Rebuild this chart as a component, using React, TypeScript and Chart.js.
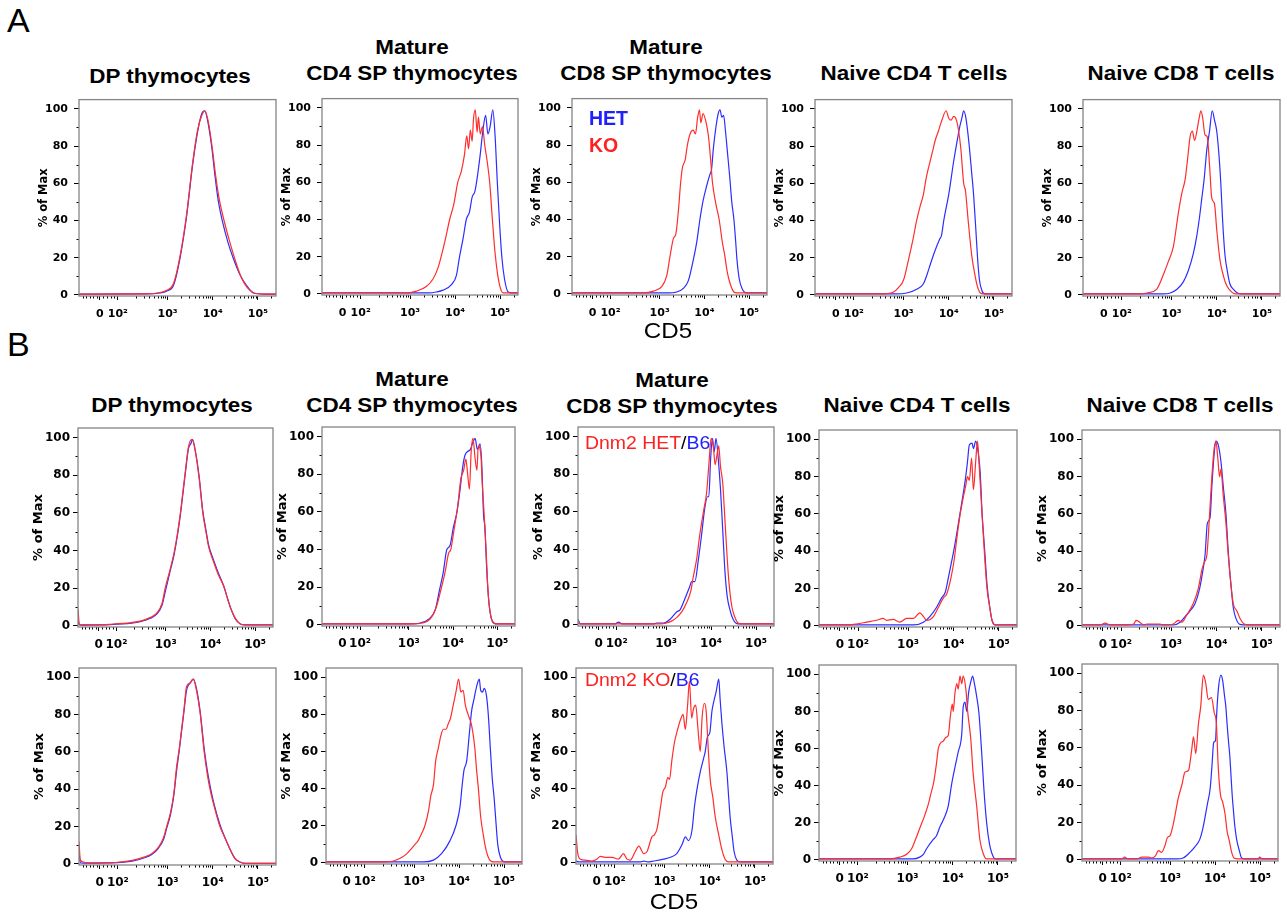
import React, { useEffect, useRef } from "react";
import { Chart, registerables } from "chart.js";
Chart.register(...registerables);

type P = [number, number];

// x: CD5 intensity in log10 display units, y: % of Max
// ---------- Panel A (HET = blue, KO = red)
const A_DP_HET: P[] = [[1.04,0.4],[2.54,0.5],[2.83,1],[2.98,2],[3.13,5],[3.27,19],[3.42,42],[3.55,69],[3.66,87],[3.75,97],[3.82,99],[3.9,92],[3.98,79],[4.05,64],[4.12,51],[4.22,39],[4.34,28],[4.45,20],[4.6,11],[4.75,5],[4.9,1],[5.12,0.4],[5.4,0.4]];
const A_DP_KO: P[] = [[1.04,0.4],[2.46,0.5],[2.76,1],[2.98,2.5],[3.13,6],[3.27,20],[3.42,43],[3.55,70],[3.66,88],[3.75,96],[3.83,99],[3.91,92],[3.99,79],[4.06,65],[4.14,52],[4.25,40],[4.37,29],[4.48,20],[4.62,10],[4.76,4],[4.91,1],[5.12,0.4],[5.4,0.4]];
const A_CD4SP_KO: P[] = [[1.04,0.5],[2.95,0.5],[3.14,1.5],[3.36,4],[3.51,8],[3.62,14],[3.69,20],[3.79,30],[3.88,40],[3.97,48],[4.06,60],[4.14,66],[4.21,75],[4.26,85],[4.3,78],[4.34,88],[4.38,82],[4.41,94],[4.45,99],[4.49,87],[4.52,95],[4.56,86],[4.61,90],[4.66,80],[4.71,72],[4.77,60],[4.83,40],[4.89,22],[4.95,10],[5.01,3],[5.07,0.5],[5.4,0.5]];
const A_CD4SP_HET: P[] = [[1.04,0.5],[3.43,0.5],[3.58,1],[3.73,2],[3.92,5],[4.03,10],[4.1,20],[4.18,30],[4.25,40],[4.32,44],[4.38,52],[4.44,55],[4.49,62],[4.56,75],[4.62,88],[4.68,96],[4.73,86],[4.78,90],[4.84,99],[4.89,85],[4.94,60],[4.99,38],[5.04,20],[5.1,8],[5.18,1],[5.25,0.5],[5.4,0.5]];
const A_CD8SP_KO: P[] = [[1.04,0.5],[2.64,0.5],[2.86,1.5],[3.05,4],[3.16,10],[3.23,20],[3.31,30],[3.36,32],[3.42,45],[3.47,60],[3.51,68],[3.57,72],[3.62,80],[3.68,86],[3.75,88],[3.8,86],[3.85,95],[3.89,99],[3.92,92],[3.97,97],[4.03,93],[4.09,85],[4.14,72],[4.18,60],[4.26,48],[4.33,40],[4.4,28],[4.46,20],[4.51,12],[4.57,6],[4.66,1],[4.72,0.5],[5.4,0.5]];
const A_CD8SP_HET: P[] = [[1.04,0.5],[3.16,0.5],[3.38,1],[3.53,3],[3.64,7],[3.75,18],[3.83,28],[3.9,40],[3.97,50],[4.05,58],[4.12,64],[4.16,67],[4.2,78],[4.26,90],[4.31,97],[4.35,99],[4.39,95],[4.43,96],[4.47,88],[4.52,75],[4.57,62],[4.61,50],[4.66,40],[4.7,28],[4.73,18],[4.78,8],[4.84,3],[4.94,0.5],[5.4,0.5]];
const A_NCD4_KO: P[] = [[1.04,0.5],[2.56,0.5],[2.78,1.5],[2.89,4],[3.0,8],[3.11,19],[3.21,30],[3.29,40],[3.37,48],[3.44,54],[3.48,60],[3.52,65],[3.59,72],[3.65,78],[3.7,83],[3.77,88],[3.85,94],[3.94,99],[4.0,95],[4.05,94],[4.11,96],[4.17,94],[4.22,88],[4.27,78],[4.33,60],[4.37,56],[4.43,40],[4.51,21],[4.57,12],[4.63,5],[4.7,1],[4.77,0.5],[5.4,0.5]];
const A_NCD4_HET: P[] = [[1.04,0.5],[2.85,0.5],[3.07,1],[3.29,3],[3.44,6],[3.52,11],[3.6,17],[3.7,24],[3.8,30],[3.84,32],[3.89,40],[4.0,54],[4.11,72],[4.18,82],[4.24,90],[4.29,95],[4.33,99],[4.38,95],[4.45,81],[4.51,65],[4.55,54],[4.6,35],[4.64,19],[4.68,8],[4.74,2],[4.81,0.5],[5.4,0.5]];
const A_NCD8_KO: P[] = [[1.04,0.5],[2.31,0.5],[2.45,1],[2.67,3],[2.82,11],[2.93,18],[3.04,26],[3.15,44],[3.23,55],[3.3,62],[3.35,72],[3.41,85],[3.46,88],[3.51,83],[3.56,88],[3.61,95],[3.65,99],[3.69,95],[3.74,86],[3.79,85],[3.84,70],[3.89,52],[3.95,49],[4.0,35],[4.07,19],[4.15,10],[4.22,5],[4.31,2],[4.41,0.5],[5.4,0.5]];
const A_NCD8_HET: P[] = [[1.04,0.5],[2.82,0.5],[2.97,1],[3.12,3],[3.26,7],[3.37,13],[3.48,22],[3.56,32],[3.62,42],[3.67,52],[3.72,62],[3.78,78],[3.84,88],[3.9,99],[3.95,94],[4.0,88],[4.05,75],[4.09,60],[4.13,40],[4.18,22],[4.24,12],[4.29,6],[4.37,3],[4.46,1],[4.55,0.5],[5.4,0.5]];

// ---------- Panel B, upper row (Dnm2 HET = red, B6 = blue)
const B1_DP_HET: P[] = [[1.04,9],[1.07,1],[1.13,0.3],[1.54,0.5],[1.84,1],[2.14,1.5],[2.43,2.5],[2.66,4.5],[2.81,7],[2.92,12],[2.99,20],[3.1,30],[3.19,39],[3.27,50],[3.33,60],[3.39,72],[3.44,82],[3.51,95],[3.59,99],[3.66,93],[3.75,78],[3.83,60],[3.9,50],[3.96,42],[4.07,34],[4.18,27],[4.3,21],[4.39,14],[4.46,9],[4.56,4],[4.67,1],[4.78,0.5],[5.4,0.5]];
const B1_DP_B6: P[] = [[1.04,3],[1.07,0.5],[1.54,0.5],[1.84,0.8],[2.14,1.2],[2.43,2.2],[2.66,4],[2.81,6.5],[2.92,11],[2.99,18],[3.1,29],[3.19,38],[3.27,49],[3.33,59],[3.39,71],[3.44,81],[3.51,94],[3.57,97],[3.6,99],[3.67,92],[3.75,79],[3.83,61],[3.9,51],[3.96,43],[4.07,35],[4.18,28],[4.3,21],[4.39,14],[4.46,9],[4.56,3.5],[4.67,1],[4.78,0.5],[5.4,0.5]];
const B1_CD4SP_HET: P[] = [[1.04,0.5],[3.11,0.5],[3.3,1],[3.48,3],[3.63,10],[3.72,18],[3.82,28],[3.9,38],[3.95,40],[4.02,50],[4.1,62],[4.18,78],[4.24,82],[4.29,88],[4.33,80],[4.37,72],[4.41,92],[4.45,99],[4.5,88],[4.54,82],[4.57,95],[4.63,90],[4.66,75],[4.7,60],[4.75,38],[4.79,18],[4.85,5],[4.93,1],[5.0,0.5],[5.4,0.5]];
const B1_CD4SP_B6: P[] = [[1.04,0.5],[3.03,0.5],[3.26,1],[3.45,3],[3.6,8],[3.69,18],[3.78,28],[3.86,40],[3.93,42],[4.01,52],[4.09,60],[4.16,72],[4.22,84],[4.27,90],[4.33,92],[4.39,93],[4.45,97],[4.5,99],[4.55,93],[4.61,96],[4.65,85],[4.69,58],[4.72,52],[4.76,30],[4.81,12],[4.87,3],[4.95,0.5],[5.4,0.5]];
const B1_CD8SP_HET: P[] = [[1.04,1],[1.09,0.5],[2.87,0.5],[3.01,1],[3.12,2],[3.24,4],[3.35,7],[3.46,12],[3.55,18],[3.6,25],[3.68,35],[3.75,48],[3.83,60],[3.9,70],[3.96,88],[4.0,99],[4.05,95],[4.09,85],[4.13,90],[4.17,95],[4.21,84],[4.26,75],[4.31,55],[4.36,35],[4.4,22],[4.46,10],[4.53,4],[4.6,1],[4.68,0.5],[5.4,0.5]];
const B1_CD8SP_B6: P[] = [[1.04,3],[1.09,0.5],[1.87,0.5],[1.94,1.5],[2.02,0.5],[2.72,0.5],[2.79,1],[2.94,1],[3.09,3],[3.24,7],[3.31,8],[3.42,14],[3.52,20],[3.57,23],[3.64,23],[3.72,35],[3.79,48],[3.86,62],[3.92,68],[3.95,68],[3.99,88],[4.03,99],[4.07,92],[4.11,99],[4.16,88],[4.21,72],[4.26,50],[4.31,28],[4.36,15],[4.42,8],[4.49,3],[4.6,0.5],[5.4,0.5]];
const B1_NCD4_HET: P[] = [[1.04,0.5],[1.64,0.5],[1.86,1],[2.09,2],[2.31,3],[2.45,4],[2.53,3],[2.67,3.5],[2.82,2],[2.97,4],[3.12,4],[3.26,7],[3.34,5],[3.41,3],[3.56,5],[3.67,10],[3.78,15],[3.85,17],[3.94,25],[4.02,36],[4.07,46],[4.15,60],[4.21,68],[4.27,75],[4.31,80],[4.35,78],[4.4,90],[4.44,73],[4.49,88],[4.53,99],[4.57,85],[4.63,60],[4.68,40],[4.74,20],[4.8,10],[4.85,3],[4.92,0.5],[5.4,0.5]];
const B1_NCD4_B6: P[] = [[1.04,0.5],[3.12,0.5],[3.34,2],[3.48,5],[3.63,10],[3.74,15],[3.82,18],[3.89,26],[3.94,32],[4.02,42],[4.09,52],[4.15,61],[4.21,70],[4.26,78],[4.31,88],[4.35,97],[4.41,98],[4.44,95],[4.49,99],[4.55,92],[4.59,82],[4.63,61],[4.69,40],[4.74,22],[4.8,10],[4.85,3],[4.92,0.5],[5.4,0.5]];
const B1_NCD8_HET: P[] = [[1.04,0.5],[1.44,0.5],[1.55,1.5],[1.66,0.5],[2.03,0.5],[2.18,1],[2.23,3],[2.31,2],[2.4,0.5],[2.47,1],[2.76,1],[2.83,0.5],[3.05,1],[3.16,3],[3.24,2],[3.35,6],[3.49,12],[3.6,20],[3.68,30],[3.73,34],[3.79,38],[3.85,60],[3.9,80],[3.95,95],[3.99,99],[4.03,90],[4.07,80],[4.1,84],[4.15,70],[4.21,55],[4.26,38],[4.32,22],[4.37,12],[4.45,8],[4.52,4],[4.61,1],[4.7,0.5],[5.4,0.5]];
const B1_NCD8_B6: P[] = [[1.04,0.5],[3.05,0.5],[3.2,2],[3.31,5],[3.42,8],[3.53,12],[3.63,20],[3.69,28],[3.75,38],[3.8,55],[3.86,58],[3.9,75],[3.95,92],[3.99,99],[4.04,97],[4.1,88],[4.15,75],[4.21,60],[4.26,40],[4.32,22],[4.37,10],[4.43,4],[4.5,1],[4.59,0.5],[5.4,0.5]];

// ---------- Panel B, lower row (Dnm2 KO = red, B6 = blue)
const B2_DP_KO: P[] = [[1.04,12],[1.07,2],[1.14,1],[1.25,0.5],[1.65,0.5],[1.95,1],[2.24,2],[2.46,3.5],[2.65,5.5],[2.8,9],[2.91,14],[2.98,20],[3.07,28],[3.14,38],[3.2,52],[3.26,62],[3.31,72],[3.36,82],[3.42,95],[3.5,97],[3.57,99],[3.64,93],[3.72,81],[3.81,60],[3.88,48],[3.94,40],[4.03,31],[4.16,20],[4.27,14],[4.38,8],[4.49,3],[4.6,1],[4.71,0.3],[5.4,0.3]];
const B2_DP_B6: P[] = [[1.04,7],[1.07,0.5],[1.25,0.4],[1.65,0.5],[1.95,0.8],[2.24,1.6],[2.46,3],[2.65,5],[2.8,8.5],[2.91,13],[2.98,19],[3.07,27],[3.14,37],[3.2,50],[3.26,61],[3.31,71],[3.36,81],[3.42,93],[3.5,97],[3.57,99],[3.64,94],[3.72,82],[3.81,62],[3.88,50],[3.94,42],[4.03,32],[4.16,21],[4.27,14],[4.38,8],[4.49,3],[4.6,1],[4.71,0.3],[5.4,0.3]];
const B2_CD4SP_KO: P[] = [[1.04,0.5],[2.32,0.5],[2.54,1],[2.73,3],[2.84,5],[2.95,8],[3.02,10],[3.09,12],[3.17,16],[3.24,20],[3.32,28],[3.37,36],[3.43,42],[3.48,55],[3.54,62],[3.59,68],[3.65,72],[3.71,72],[3.76,75],[3.81,78],[3.87,85],[3.93,92],[3.99,99],[4.04,92],[4.09,93],[4.14,85],[4.2,80],[4.28,74],[4.35,62],[4.39,50],[4.43,40],[4.48,25],[4.54,15],[4.6,7],[4.67,2],[4.77,0.5],[5.4,0.5]];
const B2_CD4SP_B6: P[] = [[1.04,0.5],[3.21,0.5],[3.43,1.5],[3.61,5],[3.8,12],[3.93,20],[4.02,30],[4.07,42],[4.11,50],[4.17,55],[4.23,70],[4.28,82],[4.33,88],[4.39,95],[4.45,99],[4.48,93],[4.52,92],[4.56,94],[4.61,90],[4.65,80],[4.7,60],[4.74,45],[4.78,35],[4.82,22],[4.86,10],[4.92,3],[5.02,0.5],[5.4,0.5]];
const B2_CD8SP_KO: P[] = [[1.04,15],[1.08,5],[1.14,2],[1.25,1.5],[1.39,1],[1.5,2],[1.58,3.5],[1.69,3],[1.84,3],[1.98,2],[2.09,5],[2.17,2],[2.24,1.5],[2.35,6],[2.43,9],[2.54,5],[2.61,6],[2.72,14],[2.77,15],[2.83,18],[2.91,30],[2.96,38],[3.02,41],[3.07,46],[3.11,45],[3.16,55],[3.22,65],[3.29,72],[3.35,77],[3.41,80],[3.46,72],[3.51,85],[3.55,98],[3.6,78],[3.64,83],[3.69,85],[3.74,72],[3.79,60],[3.83,78],[3.88,86],[3.92,82],[3.97,60],[4.01,45],[4.07,35],[4.12,25],[4.2,15],[4.27,7],[4.34,2],[4.42,0.5],[5.4,0.5]];
const B2_CD8SP_B6: P[] = [[1.04,1],[1.1,0.5],[2.46,0.5],[2.54,1],[2.63,0.5],[2.76,1],[2.98,2],[3.13,3],[3.27,5],[3.39,10],[3.46,14],[3.53,12],[3.61,18],[3.66,30],[3.72,40],[3.79,49],[3.85,55],[3.9,60],[3.95,68],[4.0,70],[4.05,82],[4.1,88],[4.14,92],[4.2,99],[4.23,88],[4.27,75],[4.32,62],[4.38,49],[4.42,35],[4.45,25],[4.5,14],[4.54,6],[4.6,1.5],[4.68,0.5],[5.4,0.5]];
const B2_NCD4_KO: P[] = [[1.04,0.5],[2.61,0.5],[2.83,1.5],[2.98,3],[3.09,6],[3.16,10],[3.27,17],[3.38,24],[3.46,30],[3.51,35],[3.58,42],[3.64,52],[3.68,60],[3.73,63],[3.79,64],[3.85,66],[3.9,67],[3.95,78],[3.99,84],[4.01,80],[4.05,90],[4.09,95],[4.12,92],[4.16,99],[4.2,95],[4.23,99],[4.29,92],[4.33,80],[4.4,65],[4.45,47],[4.53,29],[4.6,11],[4.68,3],[4.75,0.5],[5.4,0.5]];
const B2_NCD4_B6: P[] = [[1.04,0.5],[3.12,0.5],[3.27,1.5],[3.35,3],[3.42,6],[3.57,11],[3.64,13],[3.72,18],[3.8,22],[3.9,29],[3.94,35],[3.97,40],[4.05,50],[4.12,58],[4.2,68],[4.23,82],[4.27,85],[4.31,80],[4.35,90],[4.4,96],[4.44,99],[4.48,95],[4.53,88],[4.58,79],[4.64,58],[4.69,38],[4.75,20],[4.81,9],[4.86,4],[4.94,0.5],[5.4,0.5]];
const B2_NCD8_KO: P[] = [[1.04,0.5],[1.93,0.5],[1.99,1.5],[2.05,0.5],[2.26,0.5],[2.37,1.5],[2.52,1.5],[2.59,1],[2.67,2],[2.74,5],[2.81,4],[2.89,8],[2.94,12],[3.0,13],[3.06,18],[3.11,24],[3.18,33],[3.26,40],[3.33,47],[3.41,48],[3.48,59],[3.52,66],[3.57,57],[3.63,73],[3.68,82],[3.74,99],[3.79,95],[3.85,86],[3.92,87],[3.98,79],[4.03,73],[4.07,50],[4.12,35],[4.17,31],[4.22,25],[4.27,15],[4.31,11],[4.37,4],[4.42,1],[4.51,0.5],[4.96,0.5],[4.99,1.5],[5.05,0.5],[5.4,0.5]];
const B2_NCD8_B6: P[] = [[1.04,0.5],[3.15,0.5],[3.29,1],[3.44,4],[3.55,7],[3.66,11],[3.72,16],[3.77,22],[3.83,30],[3.89,38],[3.93,50],[3.97,63],[4.01,64],[4.04,80],[4.08,93],[4.13,99],[4.17,96],[4.21,88],[4.24,82],[4.27,72],[4.29,66],[4.33,55],[4.35,47],[4.38,35],[4.4,29],[4.44,18],[4.48,11],[4.54,5],[4.59,1],[4.66,0.5],[5.4,0.5]];

// ---------- axes
const X_MIN = 1.04;
const X_MAX = 5.4;
const Y_MIN = -0.6;
const Y_MAX = 105;
const X_TICK_VALUES = [1.5, 1.9, 3, 4, 5];
const X_TICK_LABELS = ["0", "10²", "10³", "10⁴", "10⁵"];
const Y_TICK_VALUES = [0, 20, 40, 60, 80, 100];
const X_MINOR = [1.12, 1.2, 1.28, 1.36, 1.44, 1.58, 1.66, 1.74, 1.82, 2.3, 2.48, 2.6, 2.7, 2.78, 2.85, 2.9, 2.95, 3.3, 3.48, 3.6, 3.7, 3.78, 3.85, 3.9, 3.95, 4.3, 4.48, 4.6, 4.7, 4.78, 4.85, 4.9, 4.95, 5.3];
const Y_MINOR = [10, 30, 50, 70, 90];

const TITLES: string[][] = [["DP thymocytes"], ["Mature", "CD4 SP thymocytes"], ["Mature", "CD8 SP thymocytes"], ["Naive CD4 T cells"], ["Naive CD8 T cells"]];

// ---------- layout (pixels)
const RED = "rgb(255,45,45)";
const BLUE = "rgb(45,45,255)";
const YW = 50;
const XH = 30;
const PT = 12;
const PR = 12;
const TICK_FONT = "'DejaVu Sans', 'Verdana', sans-serif";
const SANS = "'Liberation Sans', Arial, Helvetica, sans-serif";

type Box = [number, number, number, number];
const BOX_A: Box[] = [[79, 99, 197, 197], [322, 98, 196, 197], [572, 98, 195, 197], [815, 99, 197, 197], [1083, 99, 197, 197]];
const BOX_B1: Box[] = [[78, 428, 195, 199], [322, 427, 193, 199], [578, 427, 196, 199], [819, 430, 198, 197], [1082, 430, 198, 197]];
const BOX_B2: Box[] = [[79, 668, 197, 197], [326, 668, 196, 196], [576, 668, 197, 196], [819, 665, 197, 196], [1082, 664, 196, 197]];
const TITLE_POS_A: [number, number][] = [[170, 83], [412, 79.3], [666, 79.3], [913.5, 79.3], [1181, 79.3]];
const TITLE_POS_B: [number, number][] = [[171.7, 411.7], [411.7, 411.7], [671.7, 413], [917, 411.7], [1180, 411.7]];

type RowStyle = { tick: number; title: number; titlePad: number; xPad: number; yPad: number };
const ROW_A: RowStyle = { tick: 11, title: 11.5, titlePad: 8.6, xPad: 7.4, yPad: 6 };
const ROW_B: RowStyle = { tick: 12, title: 13, titlePad: 3.2, xPad: 6.3, yPad: 3 };

type PanelDef = { key: string; box: Box; style: RowStyle; red: P[]; blue: P[] };
const PANELS: PanelDef[] = [
  { key: "a1", box: BOX_A[0], style: ROW_A, red: A_DP_KO, blue: A_DP_HET },
  { key: "a2", box: BOX_A[1], style: ROW_A, red: A_CD4SP_KO, blue: A_CD4SP_HET },
  { key: "a3", box: BOX_A[2], style: ROW_A, red: A_CD8SP_KO, blue: A_CD8SP_HET },
  { key: "a4", box: BOX_A[3], style: ROW_A, red: A_NCD4_KO, blue: A_NCD4_HET },
  { key: "a5", box: BOX_A[4], style: ROW_A, red: A_NCD8_KO, blue: A_NCD8_HET },
  { key: "b1", box: BOX_B1[0], style: ROW_B, red: B1_DP_HET, blue: B1_DP_B6 },
  { key: "b2", box: BOX_B1[1], style: ROW_B, red: B1_CD4SP_HET, blue: B1_CD4SP_B6 },
  { key: "b3", box: BOX_B1[2], style: ROW_B, red: B1_CD8SP_HET, blue: B1_CD8SP_B6 },
  { key: "b4", box: BOX_B1[3], style: ROW_B, red: B1_NCD4_HET, blue: B1_NCD4_B6 },
  { key: "b5", box: BOX_B1[4], style: ROW_B, red: B1_NCD8_HET, blue: B1_NCD8_B6 },
  { key: "c1", box: BOX_B2[0], style: ROW_B, red: B2_DP_KO, blue: B2_DP_B6 },
  { key: "c2", box: BOX_B2[1], style: ROW_B, red: B2_CD4SP_KO, blue: B2_CD4SP_B6 },
  { key: "c3", box: BOX_B2[2], style: ROW_B, red: B2_CD8SP_KO, blue: B2_CD8SP_B6 },
  { key: "c4", box: BOX_B2[3], style: ROW_B, red: B2_NCD4_KO, blue: B2_NCD4_B6 },
  { key: "c5", box: BOX_B2[4], style: ROW_B, red: B2_NCD8_KO, blue: B2_NCD8_B6 },
];

const framePlugin = {
  id: "frameAndMinor",
  afterDraw(chart: any) {
    const { ctx, chartArea: a, scales } = chart;
    const x = scales.x;
    const y = scales.y;
    ctx.save();
    ctx.strokeStyle = "#000";
    ctx.lineWidth = 1;
    ctx.beginPath();
    for (const v of X_MINOR) {
      const px = Math.round(x.getPixelForValue(v)) + 0.5;
      ctx.moveTo(px, a.bottom);
      ctx.lineTo(px, a.bottom + 2.5);
    }
    for (const v of Y_MINOR) {
      const py = Math.round(y.getPixelForValue(v)) + 0.5;
      ctx.moveTo(a.left, py);
      ctx.lineTo(a.left - 2.5, py);
    }
    ctx.stroke();
    ctx.strokeStyle = "#858585";
    ctx.lineWidth = 1.3;
    ctx.strokeRect(a.left, a.top, a.right - a.left, a.bottom - a.top);
    ctx.restore();
  },
};

function makeConfig(p: PanelDef): any {
  const s = p.style;
  const line = (pts: P[], color: string) => ({
    data: pts.map(([x, y]) => ({ x, y })),
    borderColor: color,
    borderWidth: 1.2,
    pointRadius: 0,
    fill: false,
    cubicInterpolationMode: "monotone",
  });
  return {
    type: "line",
    data: { datasets: [line(p.red, RED), line(p.blue, BLUE)] },
    options: {
      animation: false,
      responsive: true,
      maintainAspectRatio: false,
      events: [],
      layout: { padding: { top: PT, right: PR, left: 0, bottom: 0 } },
      plugins: { legend: { display: false }, tooltip: { enabled: false }, title: { display: false } },
      scales: {
        x: {
          type: "linear",
          min: X_MIN,
          max: X_MAX,
          afterBuildTicks: (sc: any) => {
            sc.ticks = X_TICK_VALUES.map((v) => ({ value: v }));
          },
          afterFit: (sc: any) => {
            sc.height = XH;
          },
          ticks: {
            autoSkip: false,
            maxRotation: 0,
            padding: s.xPad,
            color: "#000",
            font: { family: TICK_FONT, size: s.tick, weight: "bold" },
            callback: (_v: any, i: number) => X_TICK_LABELS[i],
          },
          grid: { drawOnChartArea: false, drawTicks: true, tickLength: 4, color: "#000", lineWidth: 1 },
          border: { display: false },
        },
        y: {
          type: "linear",
          min: Y_MIN,
          max: Y_MAX,
          afterBuildTicks: (sc: any) => {
            sc.ticks = Y_TICK_VALUES.map((v) => ({ value: v }));
          },
          afterFit: (sc: any) => {
            sc.width = YW;
          },
          ticks: {
            autoSkip: false,
            padding: s.yPad,
            color: "#000",
            font: { family: TICK_FONT, size: s.tick, weight: "bold" },
            callback: (v: any) => String(Math.round(v)),
          },
          grid: { drawOnChartArea: false, drawTicks: true, tickLength: 5, color: "#000", lineWidth: 1 },
          border: { display: false },
          title: {
            display: true,
            text: "% of Max",
            color: "#000",
            font: { family: TICK_FONT, size: s.title, weight: "bold" },
            padding: { top: s.titlePad, bottom: 0 },
          },
        },
      },
    },
    plugins: [framePlugin],
  };
}

function Panel({ p }: { p: PanelDef }) {
  const ref = useRef<HTMLCanvasElement>(null);
  useEffect(() => {
    const chart = new Chart(ref.current as HTMLCanvasElement, makeConfig(p));
    return () => chart.destroy();
  }, [p]);
  const [l, t, w, h] = p.box;
  return (
    <div style={{ position: "absolute", left: l - YW, top: t - PT, width: w + YW + PR, height: h + PT + XH }}>
      <canvas ref={ref} />
    </div>
  );
}

function topFor(baseline: number, f: number, lh: number) {
  return baseline - ((lh - 1.117 * f) / 2 + 0.905 * f);
}

function Title({ lines, cx, baseline }: { lines: string[]; cx: number; baseline: number }) {
  const f = 19.5;
  const lh = 26;
  return (
    <div
      style={{
        position: "absolute",
        left: cx,
        top: topFor(baseline, f, lh) - (lines.length - 1) * lh,
        transform: "translateX(-50%) scaleX(1.15)",
        fontFamily: SANS,
        fontWeight: "bold",
        fontSize: f,
        lineHeight: lh + "px",
        textAlign: "center",
        whiteSpace: "nowrap",
        color: "#000",
      }}
    >
      {lines.map((s, i) => (
        <div key={i}>{s}</div>
      ))}
    </div>
  );
}

function Label({ x, baseline, size, bold, children, sx, center }: any) {
  const lh = size * 1.2;
  return (
    <div
      style={{
        position: "absolute",
        left: x,
        top: topFor(baseline, size, lh),
        fontFamily: SANS,
        fontWeight: bold ? "bold" : "normal",
        fontSize: size,
        lineHeight: lh + "px",
        whiteSpace: "nowrap",
        transform: center ? `translateX(-50%) scaleX(${sx || 1})` : `scaleX(${sx || 1})`,
        transformOrigin: center ? "center" : "left",
        color: "#000",
      }}
    >
      {children}
    </div>
  );
}

export default function App() {
  return (
    <div style={{ position: "absolute", left: 0, top: 0, width: 1287, height: 913, background: "#fff", overflow: "hidden" }}>
      <Label x={7} baseline={31.7} size={34}>A</Label>
      <Label x={7} baseline={356} size={34}>B</Label>
      {TITLES.map((lines, i) => (
        <Title key={"ta" + i} lines={lines} cx={TITLE_POS_A[i][0]} baseline={TITLE_POS_A[i][1]} />
      ))}
      {TITLES.map((lines, i) => (
        <Title key={"tb" + i} lines={lines} cx={TITLE_POS_B[i][0]} baseline={TITLE_POS_B[i][1]} />
      ))}
      {PANELS.map((p) => (
        <Panel key={p.key} p={p} />
      ))}
      <Label x={589} baseline={125} size={19.5} bold>
        <span style={{ color: "#2020ff" }}>HET</span>
      </Label>
      <Label x={589} baseline={152} size={19.5} bold>
        <span style={{ color: "#ff2020" }}>KO</span>
      </Label>
      <Label x={585} baseline={450} size={18.5} sx={1.05}>
        <span style={{ color: "#ff2020" }}>Dnm2 HET</span>/<span style={{ color: "#2020ff" }}>B6</span>
      </Label>
      <Label x={585} baseline={687} size={18.5} sx={1.05}>
        <span style={{ color: "#ff2020" }}>Dnm2 KO</span>/<span style={{ color: "#2020ff" }}>B6</span>
      </Label>
      <Label x={668} baseline={338.5} size={22} sx={1.1} center>CD5</Label>
      <Label x={674} baseline={910} size={22} sx={1.1} center>CD5</Label>
    </div>
  );
}
